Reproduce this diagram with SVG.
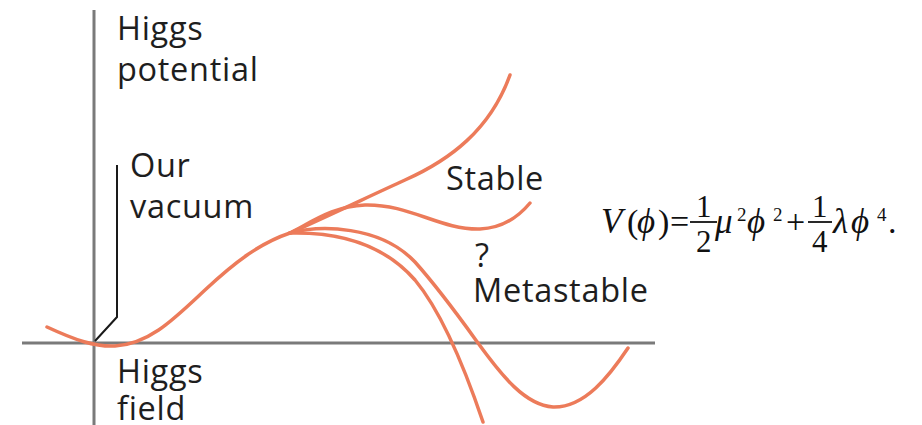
<svg xmlns="http://www.w3.org/2000/svg" width="922" height="425" viewBox="0 0 922 425">
<style>
.lbl{font-family:"Open Sans","Noto Sans",sans-serif;font-size:32.5px;fill:#1e1e1e;letter-spacing:0.7px}
.axis{stroke:#7a7a7a;stroke-width:3;fill:none}
.curve{stroke:#ec7b5a;stroke-width:3.5;fill:none;stroke-linecap:round}
.lead{stroke:#1a1a1a;stroke-width:2;fill:none}
.eq{font-family:"Liberation Serif","DejaVu Serif",serif;font-style:italic;fill:#111;font-size:35px}
.eqn{font-family:"Liberation Serif","DejaVu Serif",serif;fill:#111;font-size:34px}
.fr{font-family:"Liberation Serif","DejaVu Serif",serif;fill:#111;font-size:31px}
.sup{font-family:"Liberation Serif","DejaVu Serif",serif;fill:#111;font-size:19px}
.bar{stroke:#111;stroke-width:1.8}
</style>
<rect width="922" height="425" fill="#fff"/>
<g id="axes">
<line class="axis" x1="94" y1="10" x2="94" y2="425"/>
<line class="axis" x1="22" y1="343" x2="655" y2="343"/>
</g>
<g id="curves">
<path class="curve" d="M47,327 C75,340 95,347 115,346 C150,344 175,318 205,290 C235,262 260,243 290,233"/>
<path class="curve" d="M290,233 C330,215 370,196 405,180 C450,160 490,130 510,75"/>
<path class="curve" d="M290,233 C315,220 335,206 365,205 C410,204 440,230 480,229 C505,228 520,215 530,203"/>
<path class="curve" d="M290,233 C320,225 380,225 415,262 C440,290 460,318 478,343 C502,376 525,405 553,407 C585,408 610,375 628,348"/>
<path class="curve" d="M290,233 C330,232 380,240 415,280 C440,310 462,360 483,422"/>
</g>
<g id="leader">
<polyline class="lead" points="117,165 117,317 95,341"/>
</g>
<g id="label-potential">
<text class="lbl" x="117" y="40">Higgs</text>
<text class="lbl" x="117" y="81">potential</text>
</g>
<g id="label-vacuum">
<text class="lbl" x="130" y="177">Our</text>
<text class="lbl" x="130" y="218">vacuum</text>
</g>
<g id="label-field">
<text class="lbl" x="117" y="383">Higgs</text>
<text class="lbl" x="117" y="420">field</text>
</g>
<g id="label-stable">
<text class="lbl" x="446" y="190">Stable</text>
</g>
<g id="label-metastable">
<text class="lbl" x="475" y="267">?</text>
<text class="lbl" x="473" y="302">Metastable</text>
</g>
<g id="equation">
<text class="eq" x="601" y="233">V</text>
<text class="eqn" x="627" y="233">(</text>
<text class="eq" x="637" y="233">ϕ</text>
<text class="eqn" x="658" y="233">)</text>
<text class="eqn" x="670" y="233">=</text>
<text class="fr" x="696" y="217">1</text>
<line class="bar" x1="690" y1="222" x2="717" y2="222"/>
<text class="fr" x="696" y="252">2</text>
<text class="eq" x="715" y="233">μ</text>
<text class="sup" x="737" y="221">2</text>
<text class="eq" x="747" y="233">ϕ</text>
<text class="sup" x="773" y="221">2</text>
<text class="eqn" x="786" y="233">+</text>
<text class="fr" x="812" y="217">1</text>
<line class="bar" x1="808" y1="222" x2="832" y2="222"/>
<text class="fr" x="812" y="252">4</text>
<text class="eq" x="833" y="233">λ</text>
<text class="eq" x="851" y="233">ϕ</text>
<text class="sup" x="877" y="221">4</text>
<text class="eqn" x="888" y="233">.</text>
</g>
</svg>
